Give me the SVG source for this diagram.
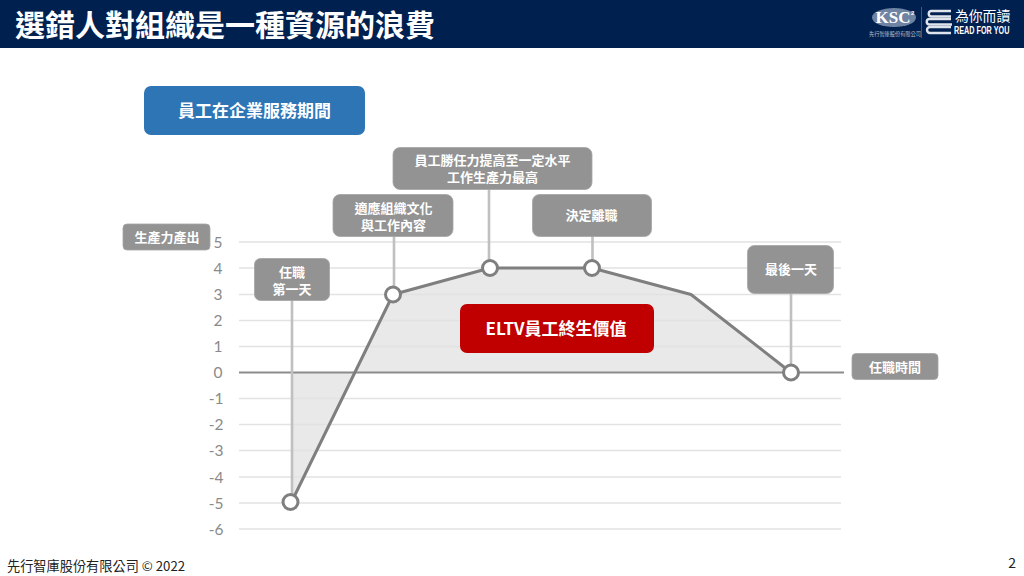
<svg xmlns="http://www.w3.org/2000/svg" width="1024" height="576" viewBox="0 0 1024 576">
<style>
text{font-family:"Noto Sans CJK TC","Noto Sans",sans-serif}
.g{fill:#e3e3e3;stroke:none}
.grid{stroke:#e2e2e2;stroke-width:1.5;fill:none}
.lead{stroke:#c0c0c0;stroke-width:2.6;fill:none}
.curve{stroke:#7f7f7f;stroke-width:3;fill:none;stroke-linejoin:round}
.dot{fill:#fff;stroke:#7f7f7f;stroke-width:3}
.box{fill:#939393;stroke:#a5a5a5;stroke-width:.8}
.bt{fill:#fff;font-size:13px;font-weight:700;text-anchor:middle}
.ax{fill:#8a8a8a;font-size:15.5px;text-anchor:middle;font-family:"Lato","Noto Sans",sans-serif}
</style>
<rect width="1024" height="576" fill="#fff"/>
<g id="header">
<rect width="1024" height="48" fill="#002050"/>
<text x="15" y="36" fill="#fff" font-size="30" font-weight="700">選錯人對組織是一種資源的浪費</text>
</g>
<g id="logo">
<ellipse cx="894" cy="17.500" rx="22" ry="9.500" fill="#6f83a3"/>
<text x="893" y="23" fill="#fff" font-size="17" font-weight="700" text-anchor="middle" style="font-family:'Liberation Serif',serif">KSC</text>
<text x="911" y="15" fill="#fff" font-size="6" font-weight="700" style="font-family:'Liberation Sans',sans-serif">2</text>
<text x="895" y="36" fill="#b8c2d2" font-size="5.200" text-anchor="middle">先行智庫股份有限公司</text>
<line x1="921.500" y1="7" x2="921.500" y2="38" stroke="#53678a" stroke-width=".8"/>
<g fill="none" stroke="#dfe4ec" stroke-width="2.400">
<path d="M951 11H931a2.800 2.800 0 0 0 0 5.500H951"/>
<path d="M951 19H929a2.800 2.800 0 0 0 0 5.500H952"/>
<path d="M951 27H930a3 3 0 0 0 0 6H951"/>
</g>
<text x="955" y="20.500" fill="#fff" font-size="13.800">為你而讀</text>
<text transform="translate(954 34) scale(.69 1)" x="0" y="0" fill="#fff" font-size="10.500" font-weight="700" style="font-family:'Liberation Sans',sans-serif">READ FOR YOU</text>
</g>
<g id="area">
<path class="g" d="M292 372.500L291 503L393 294.500L490 268H592L691 294.500L791 372.500Z" fill-opacity=".8"/>
</g>
<g id="grid">
<path class="grid" d="M239 242H841M239 268H841M239 294.500H841M239 320.500H841M239 346.500H841M239 398.500H841M239 424.500H841M239 450.500H841M239 477H841M239 503H841M239 529H841"/>
<line x1="239" y1="372.500" x2="844" y2="372.500" stroke="#8c8c8c" stroke-width="2"/>
</g>
<g id="axis-labels">
<text class="ax" x="218" y="248">5</text><text class="ax" x="218" y="274">4</text><text class="ax" x="218" y="300">3</text><text class="ax" x="218" y="326">2</text><text class="ax" x="218" y="352">1</text><text class="ax" x="218" y="378">0</text><text class="ax" x="216" y="404">-1</text><text class="ax" x="216" y="430">-2</text><text class="ax" x="216" y="456">-3</text><text class="ax" x="216" y="483">-4</text><text class="ax" x="216" y="509">-5</text><text class="ax" x="216" y="535">-6</text>
</g>
<g id="connectors">
<path class="lead" d="M292 300V498M394 236V290M489 189V264M592.500 236V264M791 293V368"/>
<path class="curve" d="M291 503L393 294.500L490 268H592L691 294.500L791 372.500"/>
</g>
<g id="points">
<circle class="dot" cx="290.500" cy="502" r="7.500"/><circle class="dot" cx="393" cy="294.500" r="7.500"/><circle class="dot" cx="490" cy="268" r="7.500"/><circle class="dot" cx="592" cy="268" r="7.500"/><circle class="dot" cx="791" cy="372.500" r="7.500"/>
</g>
<g id="n-service"><rect x="144" y="86" width="221" height="49" rx="7" fill="#2e75b6"/><text class="bt" x="254.500" y="117" style="font-size:17px">員工在企業服務期間</text></g>
<g id="n-output"><rect class="box" x="123" y="224" width="87" height="26" rx="4"/><text class="bt" x="167" y="242">生產力產出</text></g>
<g id="n-first"><rect class="box" x="254.500" y="258.500" width="75" height="42" rx="6"/><text class="bt" x="292" y="277">任職</text><text class="bt" x="292" y="294">第一天</text></g>
<g id="n-adapt"><rect class="box" x="333" y="194.500" width="120" height="42" rx="7"/><text class="bt" x="393.500" y="213">適應組織文化</text><text class="bt" x="393.500" y="230">與工作內容</text></g>
<g id="n-peak"><rect class="box" x="393" y="147.500" width="199" height="42" rx="7"/><text class="bt" x="492.500" y="165">員工勝任力提高至一定水平</text><text class="bt" x="492.500" y="182">工作生產力最高</text></g>
<g id="n-leave"><rect class="box" x="532.500" y="194.500" width="119" height="42" rx="7"/><text class="bt" x="591.500" y="220">決定離職</text></g>
<g id="n-last"><rect class="box" x="747.500" y="245.500" width="86" height="48" rx="7"/><text class="bt" x="791" y="274">最後一天</text></g>
<g id="n-tenure"><rect class="box" x="852" y="353.500" width="86" height="26" rx="4"/><text class="bt" x="895" y="372">任職時間</text></g>
<g id="n-eltv"><rect x="460" y="304" width="194" height="49" rx="7" fill="#c00000"/><text class="bt" x="556" y="335" style="font-size:17px">ELTV員工終生價值</text></g>
<g id="footer">
<text x="7" y="571" fill="#222" font-size="13.200">先行智庫股份有限公司 © 2022</text>
<text x="1016" y="568" fill="#222" font-size="14" text-anchor="end">2</text>
</g>
</svg>
